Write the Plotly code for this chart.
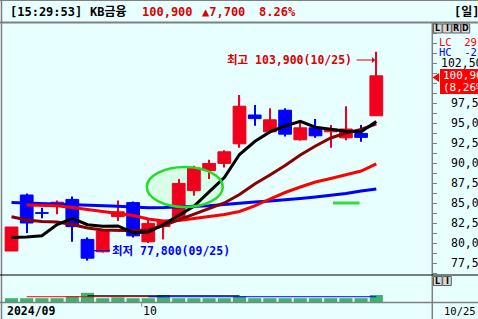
import plotly.graph_objects as go

W, H = 478, 319

# ---------------- data ----------------
dates = ["09/13", "09/19", "09/20", "09/23", "09/24", "09/25", "09/26", "09/27", "09/30",
         "10/02", "10/04", "10/07", "10/08", "10/10", "10/11", "10/14", "10/15", "10/16",
         "10/17", "10/18", "10/21", "10/22", "10/23", "10/24", "10/25"]
open_ = [79000, 86000, 83800, 84600, 85450, 80450, 78900, 83300, 85050,
         80150, 82050, 83100, 86550, 89050, 89950, 92400, 96000, 93900,
         96600, 92900, 94400, 93900, 93150, 93700, 95900]
high = [82000, 86200, 84400, 85300, 85800, 80700, 81600, 85300, 85200,
        82950, 82750, 88000, 89650, 90400, 91600, 98500, 97250, 96850,
        96850, 95050, 95500, 94750, 97100, 94750, 103900]
low = [79000, 81250, 83100, 83600, 80150, 77800, 78800, 82750, 80700,
       80000, 80450, 83000, 85900, 88000, 89450, 91900, 94650, 93800,
       93300, 92800, 93150, 91900, 92850, 92650, 95900]
close = [82000, 82500, 83700, 85100, 82050, 78100, 81500, 83900, 80900,
         82450, 82750, 87450, 89350, 89950, 91400, 97100, 95550, 95400,
         93600, 94400, 93400, 94250, 94250, 93200, 100900]

ma5 = [80700, 80750, 80900, 82300, 83070, 82290, 82090, 82130, 81290, 81370, 82300, 83490,
       84580, 86390, 88190, 91060, 92680, 93880, 94620, 95220, 94470, 94210, 93980, 93900, 95200]
ma10 = [83290, 82880, 82690, 82630, 82310, 81880, 81630, 81560, 81540, 81630, 82190, 82880,
        83560, 84250, 85000, 86060, 87380, 88500, 89690, 91000, 92130, 93130, 93750, 94190, 94880]
ma20 = [None, 84750, 84710, 84660, 84440, 84190, 83910, 83710, 83440, 83000, 82750, 82810,
        83060, 83310, 83560, 83940, 84630, 85500, 86310, 87000, 87630, 88060, 88500, 89000, 89880]
ma60 = [85060, 85000, 84960, 84900, 84840, 84750, 84660, 84590, 84500, 84410, 84440, 84500,
        84590, 84660, 84810, 85000, 85130, 85250, 85380, 85560, 85750, 85940, 86190, 86500, 86750]

volume = [1.4, 1.4, 1.4, 1.4, 2.2, 3.4, 1.4, 1.7, 1.4, 1.4, 2.6, 1.4, 1.4, 1.4, 1.4, 2.2,
          1.4, 1.4, 1.4, 1.4, 1.4, 1.4, 1.4, 1.4, 2.6]
vol_ma_red = [None, 1.95, 1.95, 1.95, 1.95, 2.0, 2.0, 2.0, 2.0, 2.0, 2.0] + [None] * 14
vol_ma_black = [None] * 5 + [2.3] * 11 + [None] * 9
vol_ma_blue = [None] * 9 + [1.95] * 16

price_ticks = [77500, 80000, 82500, 85000, 87500, 90000, 92500, 95000, 97500, 102500]
date_labels = [("2024/09", 0), ("10", 9)]
last_date_label = "10/25"

header_time = "[15:29:53]"
header_name = "KB금융"
header_price = "100,900"
header_change = "▲7,700"
header_pct = "8.26%"
period_label = "[일]"

# ---------------- derived ----------------
idx = list(range(len(close)))
RED_C = "#F0001C"
BLUE_C = "#0000FF"
cols = [RED_C if c >= o else BLUE_C for o, c in zip(open_, close)]
body_base = [min(o, c) for o, c in zip(open_, close)]
body_h = [abs(c - o) for o, c in zip(open_, close)]
wick_h = [h - l for h, l in zip(high, low)]

px_x = lambda p: p / W
px_y = lambda p: 1 - p / H

MONO = "DejaVu Sans Mono, Noto Sans CJK KR, sans-serif"
BG = "#E8FFFF"
GRAY = "#808080"

fig = go.Figure()

# moving averages (under candles)
for vals, col in [(ma60, "#0000FF"), (ma20, "#FF0000"), (ma10, "#8B0000")]:
    fig.add_trace(go.Scatter(x=idx, y=vals, mode="lines", line=dict(color=col, width=3),
                             xaxis="x", yaxis="y", hoverinfo="skip"))

# wicks
fig.add_trace(go.Bar(x=idx, y=wick_h, base=low, width=0.08, marker=dict(color=cols, line=dict(width=0)),
                     xaxis="x", yaxis="y", hoverinfo="skip"))
# bodies
fig.add_trace(go.Bar(x=idx, y=body_h, base=body_base, width=0.84,
                     marker=dict(color=cols, line=dict(color=cols, width=1)),
                     xaxis="x", yaxis="y", hoverinfo="skip"))

# 5-day MA on top
fig.add_trace(go.Scatter(x=idx, y=ma5, mode="lines", line=dict(color="#000000", width=3),
                         xaxis="x", yaxis="y", hoverinfo="skip"))

# volume
fig.add_trace(go.Bar(x=idx, y=volume, width=0.86, marker=dict(color="#3CB371", line=dict(width=0)),
                     xaxis="x2", yaxis="y2", hoverinfo="skip"))
for vals, col in [(vol_ma_red, "#FF0000"), (vol_ma_black, "#000000"), (vol_ma_blue, "#0000FF")]:
    fig.add_trace(go.Scatter(x=idx, y=vals, mode="lines", line=dict(color=col, width=1),
                             xaxis="x2", yaxis="y2", hoverinfo="skip"))

xr = [(3 - 11.5) / 15.2, (432 - 11.5) / 15.2]
xdom = [px_x(3), px_x(432)]

fig.update_layout(
    width=W, height=H, margin=dict(l=0, r=0, t=0, b=0),
    paper_bgcolor=BG, plot_bgcolor=BG, showlegend=False, barmode="overlay",
    xaxis=dict(domain=xdom, range=xr, visible=False, anchor="y"),
    yaxis=dict(domain=[px_y(275), px_y(23)], range=[76000, 107500], side="right",
               showgrid=False, zeroline=False, showticklabels=False, ticks="outside",
               ticklen=4, tickcolor=GRAY, tickwidth=1, tick0=0, dtick=1250, anchor="x"),
    xaxis2=dict(domain=xdom, range=xr, visible=False, anchor="y2"),
    yaxis2=dict(domain=[px_y(302), px_y(275)], range=[0, 10], visible=False, anchor="x2"),
)

shapes = []
ann = []

# frame lines
shapes += [
    dict(type="line", xref="paper", yref="paper", x0=0, x1=1, y0=px_y(22.5), y1=px_y(22.5),
         line=dict(color=GRAY, width=2)),
    dict(type="line", xref="paper", yref="paper", x0=px_x(1.5), x1=px_x(1.5), y0=0, y1=1,
         line=dict(color=GRAY, width=1.5)),
    dict(type="line", xref="paper", yref="paper", x0=0, x1=1, y0=px_y(0.5), y1=px_y(0.5),
         line=dict(color=GRAY, width=1)),
    dict(type="line", xref="paper", yref="paper", x0=px_x(432.3), x1=px_x(432.3), y0=0, y1=px_y(23),
         line=dict(color=GRAY, width=1.5)),
    dict(type="line", xref="paper", yref="paper", x0=0, x1=1, y0=px_y(275), y1=px_y(275),
         line=dict(color="#000000", width=1.2)),
    dict(type="line", xref="paper", yref="paper", x0=0, x1=1, y0=px_y(302.5), y1=px_y(302.5),
         line=dict(color=GRAY, width=1.5)),
]

# green ellipse & dash
shapes.append(dict(type="circle", xref="x", yref="y", x0=8.9, x1=13.9, y0=84500, y1=89500,
                   fillcolor="rgba(185,255,185,0.35)", line=dict(width=0), layer="below"))
shapes.append(dict(type="circle", xref="x", yref="y", x0=8.9, x1=13.9, y0=84500, y1=89500,
                   fillcolor="rgba(0,0,0,0)", line=dict(color="#22DD22", width=2.5), layer="above"))
shapes.append(dict(type="line", xref="x", yref="y", x0=21.15, x1=22.9, y0=85000, y1=85000,
                   line=dict(color="#33DD33", width=3)))

# header
RED_T = "#DD0000"
for txt, xp, col in [(header_time, 8, "#000000"), (header_name, 88, "#000000"),
                     (header_price, 140, RED_T), (header_change, 200, RED_T),
                     (header_pct, 257, RED_T), (period_label, 452, "#000000")]:
    ann.append(dict(xref="paper", yref="paper", x=px_x(xp), y=px_y(12.3), xanchor="left",
                    yanchor="middle", text=f"<b>{txt}</b>", showarrow=False,
                    font=dict(family=MONO, size=12, color=col)))

# price axis labels
for v in price_ticks:
    xp = 439 if v >= 100000 else 449
    ann.append(dict(xref="paper", yref="y", x=px_x(xp), y=v, xanchor="left", yanchor="middle",
                    text=f"{v:,}", showarrow=False, font=dict(family=MONO, size=11.5, color="#000000")))

# LC / HC
ann.append(dict(xref="paper", yref="paper", x=px_x(437), y=px_y(41.7), xanchor="left", yanchor="middle",
                text="LC  29,570", showarrow=False, font=dict(family=MONO, size=10.5, color="#FF0000")))
ann.append(dict(xref="paper", yref="paper", x=px_x(437), y=px_y(52.3), xanchor="left", yanchor="middle",
                text="HC  -2,370", showarrow=False, font=dict(family=MONO, size=10.5, color="#0000FF")))

# current price box + triangle
shapes.append(dict(type="rect", xref="paper", yref="paper", x0=px_x(440), x1=1.0,
                   y0=px_y(94), y1=px_y(69), fillcolor="#FF0000", line=dict(width=0)))
shapes.append(dict(type="path", xref="paper", yref="paper",
                   path=f"M {px_x(432.5)},{px_y(77.5)} L {px_x(439)},{px_y(73)} L {px_x(439)},{px_y(82)} Z",
                   fillcolor="#FF0000", line=dict(width=0)))
ann.append(dict(xref="paper", yref="paper", x=px_x(441), y=px_y(75.5), xanchor="left", yanchor="middle",
                text=f"{close[-1]:,}", showarrow=False, font=dict(family=MONO, size=11, color="#FFFFFF")))
ann.append(dict(xref="paper", yref="paper", x=px_x(441), y=px_y(87.5), xanchor="left", yanchor="middle",
                text="(8,26%)", showarrow=False, font=dict(family=MONO, size=11, color="#FFFFFF")))

# buttons
def buttons(letters, x0, y0):
    for k, L in enumerate(letters):
        bx = x0 + k * 9.2
        shapes.append(dict(type="rect", xref="paper", yref="paper", x0=px_x(bx), x1=px_x(bx + 8.6),
                           y0=px_y(y0 + 9), y1=px_y(y0), fillcolor="#D8D8D8",
                           line=dict(color="#606060", width=1)))
        ann.append(dict(xref="paper", yref="paper", x=px_x(bx + 4.3), y=px_y(y0 + 4.6),
                        xanchor="center", yanchor="middle", text=f"<b>{L}</b>", showarrow=False,
                        font=dict(family="DejaVu Sans", size=8, color="#000000")))

buttons("LIRD", 433.5, 24)
buttons("LI", 433.5, 276.5)

# high / low notes
hi_i = max(idx, key=lambda i: high[i])
lo_i = min(idx, key=lambda i: low[i])
ann.append(dict(xref="paper", yref="paper", x=px_x(354), y=px_y(60), xanchor="right", yanchor="middle",
                text=f"<b>최고 {high[hi_i]:,}({dates[hi_i]})</b>", showarrow=False,
                font=dict(family=MONO, size=11.5, color=RED_T)))
ann.append(dict(xref="x", yref="paper", x=hi_i - 0.08, y=px_y(60), ax=-20, ay=0, text="",
                showarrow=True, arrowhead=1, arrowsize=1, arrowwidth=1, arrowcolor=RED_T))
ann.append(dict(xref="paper", yref="paper", x=px_x(110), y=px_y(250.5), xanchor="left", yanchor="middle",
                text=f"<b>최저 {low[lo_i]:,}({dates[lo_i]})</b>", showarrow=False,
                font=dict(family=MONO, size=11.5, color=BLUE_C)))
shapes.append(dict(type="line", xref="paper", yref="paper", x0=px_x(94), x1=px_x(110),
                   y0=px_y(250.7), y1=px_y(250.7), line=dict(color=BLUE_C, width=1.2)))

# date axis
for txt, i in date_labels:
    if txt == "10":
        xp = 11.5 + 15.2 * i - 6.6
        shapes.append(dict(type="line", xref="paper", yref="paper", x0=px_x(xp), x1=px_x(xp),
                           y0=px_y(302.5), y1=px_y(306.5), line=dict(color=GRAY, width=1)))
        ann.append(dict(xref="paper", yref="paper", x=px_x(xp - 0.5), y=px_y(311), xanchor="left",
                        yanchor="middle", text=txt, showarrow=False,
                        font=dict(family=MONO, size=11.5, color="#000000")))
    else:
        ann.append(dict(xref="paper", yref="paper", x=px_x(5), y=px_y(311), xanchor="left",
                        yanchor="middle", text=f"<b>{txt}</b>", showarrow=False,
                        font=dict(family=MONO, size=11.5, color="#000000")))
ann.append(dict(xref="paper", yref="paper", x=px_x(441.5), y=px_y(311), xanchor="left", yanchor="middle",
                text=last_date_label, showarrow=False, font=dict(family=MONO, size=10.5, color="#000000")))

fig.update_layout(shapes=shapes, annotations=ann)
fig.write_html("out.html")
